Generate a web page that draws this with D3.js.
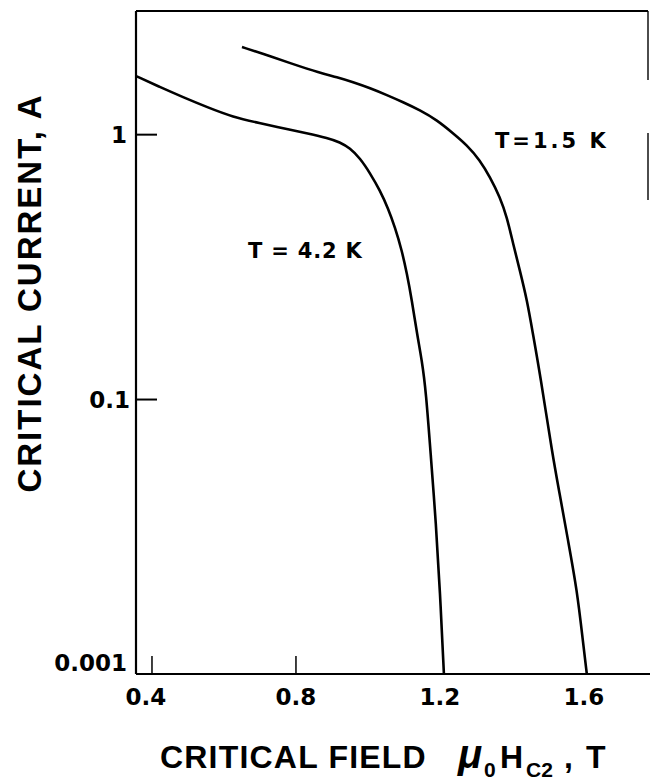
<!DOCTYPE html>
<html>
<head>
<meta charset="utf-8">
<title>Critical current vs critical field</title>
<style>
body { margin: 0; background: #fff; }
#chart { display: block; }
.tick-label {
  font-family: "DejaVu Sans", sans-serif;
  font-weight: bold;
  font-size: 23px;
  fill: #000;
}
.axis-title {
  font-family: "Liberation Sans", Arial, sans-serif;
  font-weight: bold;
  fill: #000;
}
.curve-label {
  font-family: "DejaVu Sans", sans-serif;
  font-weight: bold;
  font-size: 21px;
  fill: #000;
}
</style>
</head>
<body>

<svg id="chart" width="650" height="781"></svg>

<script src="https://d3js.org/d3.v7.min.js"></script>
<script>

// critical field (T), T = 4.2 K curve
const field42 = [0.356, 0.422, 0.486, 0.553, 0.625, 0.700, 0.764, 0.831, 0.889, 0.922, 0.950, 0.978, 1.006, 1.033, 1.056, 1.075, 1.094, 1.108, 1.122, 1.136, 1.150, 1.161, 1.175, 1.189, 1.200, 1.211];
// critical current (A), T = 4.2 K
const current42 = [1.664, 1.512, 1.386, 1.270, 1.165, 1.105, 1.058, 1.013, 0.970, 0.937, 0.889, 0.815, 0.715, 0.617, 0.527, 0.447, 0.366, 0.300, 0.237, 0.178, 0.140, 0.108, 0.0603, 0.0340, 0.0190, 0.0092];

// critical field (T), T = 1.5 K curve
const field15 = [0.650, 0.719, 0.783, 0.867, 0.914, 0.958, 1.006, 1.053, 1.097, 1.144, 1.192, 1.236, 1.275, 1.311, 1.339, 1.367, 1.386, 1.403, 1.422, 1.442, 1.458, 1.478, 1.514, 1.531, 1.556, 1.581, 1.597, 1.608];
// critical current (A), T = 1.5 K
const current15 = [2.142, 1.998, 1.864, 1.708, 1.650, 1.579, 1.499, 1.410, 1.327, 1.238, 1.134, 1.013, 0.913, 0.801, 0.691, 0.580, 0.488, 0.389, 0.307, 0.237, 0.178, 0.125, 0.0603, 0.0453, 0.0293, 0.0190, 0.0123, 0.0092];

const xTickValues = [0.4, 0.8, 1.2, 1.6];
const xTickLabels = ["0.4", "0.8", "1.2", "1.6"];
const xTickMarks = [0.4, 0.8];
const yTickValues = [1, 0.1, 0.0092];
const yTickLabels = ["1", "0.1", "0.001"];  // bottom label as printed
const yTickMarks = [1, 0.1];

const svg = d3.select("#chart");
const plot = { left: 136, right: 648, top: 11, bottom: 674 };

const x = d3.scaleLinear()
  .domain([0.3556, 1.778])
  .range([plot.left, plot.right]);

const y = d3.scaleLog()
  .domain([0.0092, 2.93])
  .range([plot.bottom, plot.top]);

svg.append("rect").attr("width", 650).attr("height", 781).attr("fill", "#fff");

// frame: left, bottom, top, and the visible bits of the right edge
svg.append("line")
  .attr("x1", plot.left).attr("x2", plot.left)
  .attr("y1", plot.top).attr("y2", plot.bottom)
  .attr("stroke", "#000").attr("stroke-width", 2.2);
svg.append("line")
  .attr("x1", plot.left).attr("x2", 650)
  .attr("y1", plot.bottom).attr("y2", plot.bottom)
  .attr("stroke", "#000").attr("stroke-width", 2.2);
svg.append("line")
  .attr("x1", plot.left).attr("x2", plot.right)
  .attr("y1", plot.top).attr("y2", plot.top)
  .attr("stroke", "#000").attr("stroke-width", 1.8);
[[plot.top, 80], [133, 200]].forEach(s => {
  svg.append("line")
    .attr("x1", plot.right).attr("x2", plot.right)
    .attr("y1", s[0]).attr("y2", s[1])
    .attr("stroke", "#000").attr("stroke-width", 1.4);
});

// inward ticks
svg.selectAll(".xtick").data(xTickMarks).join("line")
  .attr("x1", d => x(d)).attr("x2", d => x(d))
  .attr("y1", plot.bottom).attr("y2", plot.bottom - 18)
  .attr("stroke", "#000").attr("stroke-width", 1.5);
svg.selectAll(".ytick").data(yTickMarks).join("line")
  .attr("x1", plot.left).attr("x2", plot.left + 21)
  .attr("y1", d => y(d)).attr("y2", d => y(d))
  .attr("stroke", "#000").attr("stroke-width", 2);

// tick labels
svg.selectAll(".xlab").data(xTickValues).join("text")
  .attr("class", "tick-label")
  .attr("x", d => x(d) - (d === 0.4 ? 6 : 0))
  .attr("y", 705)
  .attr("text-anchor", "middle")
  .text((d, i) => xTickLabels[i]);

svg.selectAll(".ylab").data(yTickValues).join("text")
  .attr("class", "tick-label")
  .attr("x", (d, i) => plot.left - (i === 1 ? 6 : 9))
  .attr("y", (d, i) => y(d) + (i === 2 ? -3 : 8))
  .attr("text-anchor", "end")
  .text((d, i) => yTickLabels[i]);

// curves
const line = d3.line()
  .x(d => x(d[0]))
  .y(d => y(d[1]))
  .curve(d3.curveBasis);

[[field42, current42], [field15, current15]].forEach(([fx, cy]) => {
  svg.append("path")
    .datum(fx.map((v, i) => [v, cy[i]]))
    .attr("fill", "none")
    .attr("stroke", "#000")
    .attr("stroke-width", 2.6)
    .attr("stroke-linejoin", "round")
    .attr("d", line);
});

svg.append("text")
  .attr("class", "curve-label")
  .attr("x", 248).attr("y", 258)
  .attr("letter-spacing", "0.8px")
  .text("T = 4.2 K");

svg.append("text")
  .attr("class", "curve-label")
  .attr("x", 495).attr("y", 148)
  .attr("letter-spacing", "3px")
  .text("T=1.5 K");

// y axis title
svg.append("text")
  .attr("class", "axis-title")
  .attr("transform", "translate(41,293) rotate(-90)")
  .attr("text-anchor", "middle")
  .attr("font-size", 33)
  .attr("letter-spacing", "2px")
  .text("CRITICAL CURRENT, A");

// x axis title
const xt = svg.append("text")
  .attr("class", "axis-title")
  .attr("y", 768)
  .attr("font-size", 32);
xt.append("tspan").attr("x", 160).attr("letter-spacing", "1.2px").text("CRITICAL FIELD");
xt.append("tspan").attr("x", 458).attr("font-style", "italic").attr("font-size", 40).text("μ");
xt.append("tspan").attr("x", 484).attr("dy", 9).attr("font-size", 21).text("0");
xt.append("tspan").attr("x", 500).attr("dy", -9).text("H");
xt.append("tspan").attr("x", 526).attr("dy", 9).attr("font-size", 21).text("C2");
xt.append("tspan").attr("x", 564).attr("dy", -9).text(",");
xt.append("tspan").attr("x", 586).text("T");

</script>
</body>
</html>
